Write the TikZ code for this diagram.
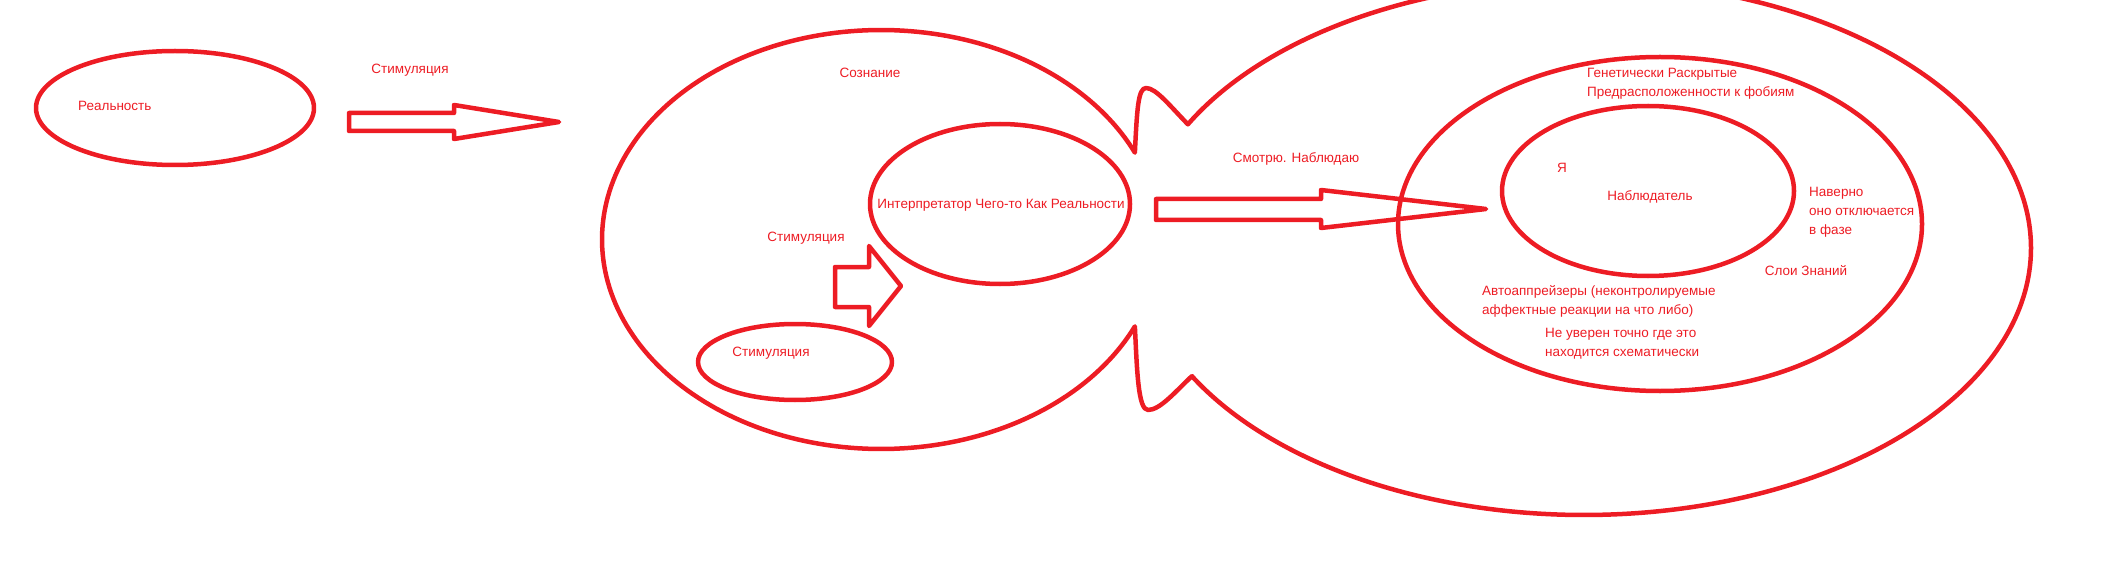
\documentclass[tikz,border=0pt]{standalone}
\usepackage{fontspec}
\setmainfont{Liberation Sans}
\definecolor{paintred}{HTML}{ED1C24}
\tikzset{
  redline/.style={draw=paintred, line width=4.5pt, line join=round, line cap=round},
  lbl/.style={text=paintred, font=\fontsize{13.5}{19}\selectfont, inner sep=0pt, align=left},
}

\begin{document}
\begin{tikzpicture}[x=1pt, y=-1pt]
\useasboundingbox (0,0) rectangle (2112,580);

% === Reality and the first stimulus ===
\draw[redline] (175,108) ellipse [x radius=139, y radius=57];
\node[lbl, anchor=west] (real) at (78,106) {Реальность};
\node[lbl] (stimtop) at (410,70) {Стимуляция};
\draw[redline] (349,113) -- (454,113) -- (454,105) -- (559,122) -- (454,139) -- (454,131) -- (349,131) -- cycle;

% === Consciousness joined to the outer bubble by two lobes ===
\draw[redline]
  plot[domain=24.5:335.5, samples=200] ({881+279*cos(\x)}, {239.5-209.5*sin(\x)})
  .. controls (1137,370) and (1138,410) .. (1148,410)
  .. controls (1160,410) and (1175,392) .. (1192,376)
  -- plot[domain=-151.3:152.4, samples=300] ({1584+447*cos(\x)}, {248-267*sin(\x)})
  .. controls (1170,106) and (1156,88) .. (1146,88)
  .. controls (1138,88) and (1137,110) .. cycle;
\node[lbl] (mind) at (870,73) {Сознание};

% === Interpreter and the inner stimulus ===
\draw[redline] (1000,204) ellipse [x radius=130, y radius=80];
\node[lbl] (interp) at (1001,205) {Интерпретатор Чего-то Как Реальности};
\node[lbl] (stimmid) at (806,238) {Стимуляция};
\draw[redline] (795,362) ellipse [x radius=97, y radius=38];
\node[lbl] (stimlow) at (771,353) {Стимуляция};
\draw[redline] (835,267) -- (869,267) -- (869,246) -- (901,286) -- (869,326) -- (869,307) -- (835,307) -- cycle;

% === Looking at the observer ===
\node[lbl] (look) at (1296,159) {Смотрю. Наблюдаю};
\draw[redline] (1156,199) -- (1321,199) -- (1321,190) -- (1486,209) -- (1321,228) -- (1321,220) -- (1156,220) -- cycle;

% === Layers of knowledge and the observer ===
\draw[redline] (1660,224) ellipse [x radius=262, y radius=167];
\draw[redline] (1648,191) ellipse [x radius=146, y radius=85];
\node[lbl, anchor=west] (genes) at (1587,83.5) {Генетически Раскрытые\\Предрасположенности к фобиям};
\node[lbl] (me) at (1562,168) {Я};
\node[lbl] (observer) at (1650,197) {Наблюдатель};
\node[lbl, anchor=west] (maybe) at (1809,212) {Наверно\\оно отключается\\в фазе};
\node[lbl] (layers) at (1806,271) {Слои Знаний};
\node[lbl, anchor=west] (auto) at (1482,301.5) {Автоаппрейзеры (неконтролируемые\\аффектные реакции на что либо)};
\node[lbl, anchor=west] (unsure) at (1545,343.5) {Не уверен точно где это\\находится схематически};
\end{tikzpicture}
\end{document}
